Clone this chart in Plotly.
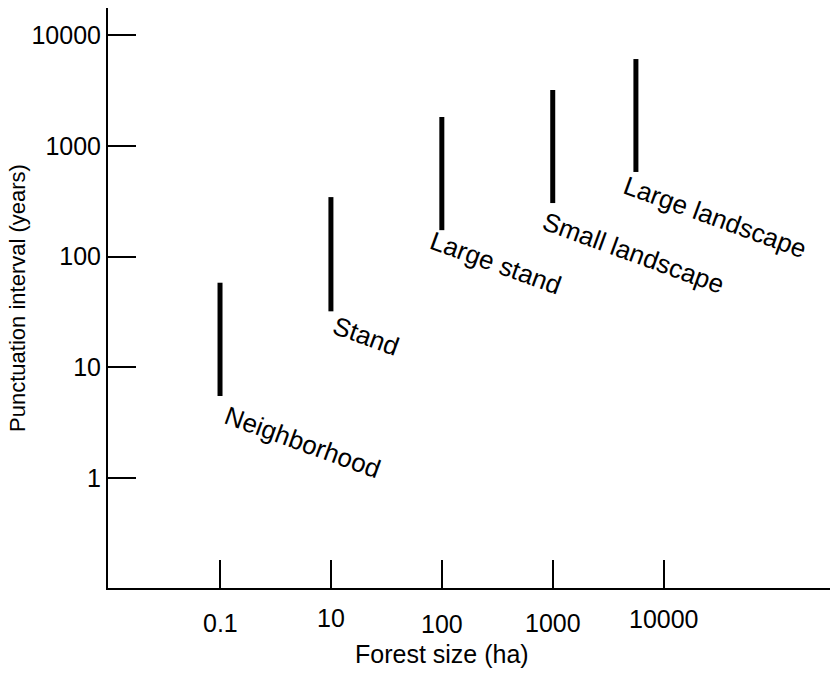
import numpy as np
import plotly.graph_objects as go

# Forest size classes (equally spaced positions on the x axis)
size_ticks = ["0.1", "10", "100", "1000", "10000"]
tick_pos = [0, 1, 2, 3, 4]

# Scale units and their range of punctuation intervals (years)
units = ["Neighborhood", "Stand", "Large stand", "Small landscape", "Large landscape"]
unit_pos = [0, 1, 2, 3, 3.75]
interval_low = [5.5, 32, 173, 304, 580]
interval_high = [58, 344, 1820, 3190, 6070]

FONT = "Liberation Sans, Arial, sans-serif"

fig = go.Figure()

for name, x, lo, hi in zip(units, unit_pos, interval_low, interval_high):
    fig.add_trace(go.Scatter(
        x=[x, x], y=[lo, hi], mode="lines",
        line=dict(color="black", width=5),
        showlegend=False, hoverinfo="skip", name=name,
    ))

# label offsets (px) from the lower end of each bar to the label centre
label_shift = [(82, -46), (35, -25), (54, -33), (81, -50), (79, -45)]
for name, x, lo, (dx, dy) in zip(units, unit_pos, interval_low, label_shift):
    fig.add_annotation(
        x=x, y=np.log10(lo), xref="x", yref="y", text=name,
        showarrow=False, textangle=20, xanchor="center", yanchor="middle",
        xshift=dx, yshift=dy, font=dict(family=FONT, size=26, color="black"),
    )

# x tick labels, slightly staggered
tick_drop = [35, 30, 36, 35, 31]
for lab, x, d in zip(size_ticks, tick_pos, tick_drop):
    fig.add_annotation(
        x=x, y=0, xref="x", yref="paper", text=lab, showarrow=False,
        xanchor="center", yanchor="middle", yshift=-d,
        font=dict(family=FONT, size=25, color="black"),
    )

fig.add_annotation(
    x=2, y=0, xref="x", yref="paper", text="Forest size (ha)", showarrow=False,
    xanchor="center", yanchor="middle", yshift=-66,
    font=dict(family=FONT, size=25, color="black"),
)

fig.update_xaxes(
    range=[-1.01, 5.5], tickvals=tick_pos, showticklabels=False,
    ticks="inside", ticklen=28, tickwidth=1.5, tickcolor="black",
    showline=True, linecolor="black", linewidth=2,
    showgrid=False, zeroline=False,
)
fig.update_yaxes(
    type="log", range=[-0.993, 4.244],
    tickvals=[1, 10, 100, 1000, 10000], ticktext=["1", "10", "100", "1000", "10000"],
    ticks="inside", ticklen=28, tickwidth=1.5, tickcolor="black",
    tickfont=dict(family=FONT, size=25, color="black"),
    showline=True, linecolor="black", linewidth=2,
    showgrid=False, zeroline=False,
    title=dict(text="Punctuation interval (years)", standoff=0,
               font=dict(family=FONT, size=22, color="black")),
)

fig.update_layout(
    width=832, height=673,
    margin=dict(l=108, r=2, t=8, b=85),
    plot_bgcolor="white", paper_bgcolor="white",
    font=dict(family=FONT, color="black"),
)

fig.write_html("out.html")
